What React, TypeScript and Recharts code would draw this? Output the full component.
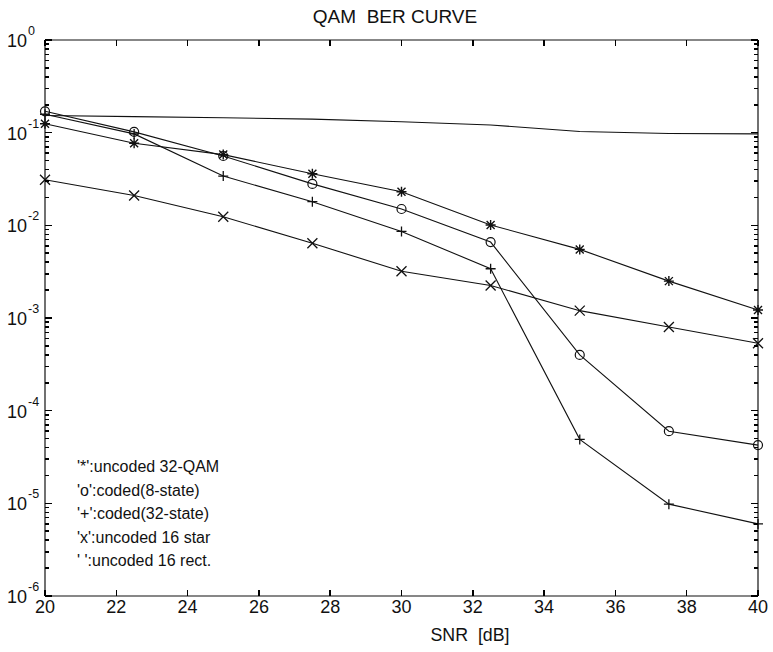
import { LineChart, Line, XAxis, YAxis } from 'recharts'

// SNR points (dB)
const SNR = [20, 22.5, 25, 27.5, 30, 32.5, 35, 37.5, 40]

// BER values
const UNCODED_32QAM = [0.125, 0.077, 0.058, 0.036, 0.023, 0.0101, 0.0055, 0.0025, 0.00122]
const CODED_8STATE = [0.17, 0.102, 0.056, 0.028, 0.015, 0.0066, 0.0004, 0.00006, 0.0000425]
const CODED_32STATE = [0.158, 0.097, 0.034, 0.018, 0.0086, 0.0034, 0.000049, 0.0000098, 0.000006]
const UNCODED_16STAR = [0.031, 0.021, 0.0124, 0.0064, 0.0032, 0.00224, 0.0012, 0.0008, 0.000535]
const UNCODED_16RECT = [0.153, 0.149, 0.145, 0.14, 0.131, 0.121, 0.103, 0.098, 0.097]

const X_TICKS = [20, 22, 24, 26, 28, 30, 32, 34, 36, 38, 40]
const Y_DECADES = [1e-6, 1e-5, 1e-4, 1e-3, 1e-2, 1e-1, 1]
const MINOR_STEPS = [2, 3, 4, 5, 6, 7, 8, 9]
const Y_TICKS = [
	...Y_DECADES,
	...Y_DECADES.slice(0, -1).flatMap((d) => MINOR_STEPS.map((m) => m * d)),
].sort((a, b) => a - b)

const LEGEND_LINES = [
	"'*':uncoded 32-QAM",
	"'o':coded(8-state)",
	"'+':coded(32-state)",
	"'x':uncoded 16 star",
	"' ':uncoded 16 rect.",
]

const rows = SNR.map((snr, i) => ({
	snr,
	qam32: UNCODED_32QAM[i],
	coded8: CODED_8STATE[i],
	coded32: CODED_32STATE[i],
	star16: UNCODED_16STAR[i],
	rect16: UNCODED_16RECT[i],
}))

const FONT = '"Liberation Sans", Arial, Helvetica, sans-serif'
const INK = '#111'
const TICK_W = 1.5

function isMajor(v: number) {
	const e = Math.log10(v)
	return Math.abs(e - Math.round(e)) < 1e-6
}

// ticks point inward, like the matlab frame
function LeftTick({ x, y, payload }: any) {
	const v = payload.value
	if (!isMajor(v))
		return <path d={`M${x},${y}h4`} stroke='#000' strokeWidth={TICK_W} shapeRendering='crispEdges' />
	const e = Math.round(Math.log10(v))
	return (
		<g>
			<path d={`M${x},${y}h7`} stroke='#000' strokeWidth={TICK_W} shapeRendering='crispEdges' />
			<text x={x - 18} y={y + 7} textAnchor='end' fontSize={18} fontFamily={FONT} fill={INK}>
				10
			</text>
			<text x={x - 17} y={y - 5} fontSize={12.5} fontFamily={FONT} fill={INK}>
				{e}
			</text>
		</g>
	)
}

function RightTick({ x, y, payload }: any) {
	const len = isMajor(payload.value) ? 7 : 4
	return <path d={`M${x},${y}h${-len}`} stroke='#000' strokeWidth={TICK_W} shapeRendering='crispEdges' />
}

function BottomTick({ x, y, payload }: any) {
	return (
		<g>
			<path d={`M${x},${y}v-6`} stroke='#000' strokeWidth={TICK_W} shapeRendering='crispEdges' />
			<text x={x} y={y + 17} textAnchor='middle' fontSize={18} fontFamily={FONT} fill={INK}>
				{payload.value}
			</text>
		</g>
	)
}

function TopTick({ x, y }: any) {
	return <path d={`M${x},${y}v6`} stroke='#000' strokeWidth={TICK_W} shapeRendering='crispEdges' />
}

const asterisk = ({ cx, cy, index }: any) => (
	<path
		key={`a${index}`}
		d={`M${cx - 5},${cy}H${cx + 5}M${cx},${cy - 5}V${cy + 5}M${cx - 4},${cy - 4}L${cx + 4},${cy + 4}M${cx - 4},${cy + 4}L${cx + 4},${cy - 4}`}
		stroke={INK}
		strokeWidth={1.4}
		fill='none'
	/>
)

const circle = ({ cx, cy, index }: any) => (
	<circle key={`o${index}`} cx={cx} cy={cy} r={4.5} stroke={INK} strokeWidth={1.2} fill='none' />
)

const plus = ({ cx, cy, index }: any) => (
	<path
		key={`p${index}`}
		d={`M${cx - 5},${cy}H${cx + 5}M${cx},${cy - 5}V${cy + 5}`}
		stroke={INK}
		strokeWidth={1.3}
		fill='none'
	/>
)

const cross = ({ cx, cy, index }: any) => (
	<path
		key={`x${index}`}
		d={`M${cx - 5},${cy - 5}L${cx + 5},${cy + 5}M${cx - 5},${cy + 5}L${cx + 5},${cy - 5}`}
		stroke={INK}
		strokeWidth={1.3}
		fill='none'
	/>
)

export default function App() {
	return (
		<div style={{ position: 'absolute', left: 0, top: 0, background: '#fff' }}>
			<LineChart width={773} height={652} data={rows} margin={{ top: 10, right: 0, bottom: 0, left: 0 }}>
				<XAxis
					xAxisId='b'
					dataKey='snr'
					type='number'
					domain={[20, 40]}
					ticks={X_TICKS}
					interval={0}
					height={56}
					tickSize={0}
					tickMargin={0}
					tickLine={false}
					axisLine={{ stroke: INK, strokeWidth: 1.2 }}
					tick={BottomTick}
				/>
				<XAxis
					xAxisId='t'
					orientation='top'
					dataKey='snr'
					type='number'
					domain={[20, 40]}
					ticks={X_TICKS}
					interval={0}
					height={30}
					tickSize={0}
					tickMargin={0}
					tickLine={false}
					axisLine={{ stroke: INK, strokeWidth: 1.2 }}
					tick={TopTick}
				/>
				<YAxis
					yAxisId='l'
					scale='log'
					type='number'
					domain={[1e-6, 1]}
					ticks={Y_TICKS}
					interval={0}
					width={45}
					tickSize={0}
					tickMargin={0}
					tickLine={false}
					axisLine={{ stroke: INK, strokeWidth: 1.2 }}
					tick={LeftTick}
					allowDataOverflow
				/>
				<YAxis
					yAxisId='r'
					orientation='right'
					scale='log'
					type='number'
					domain={[1e-6, 1]}
					ticks={Y_TICKS}
					interval={0}
					width={15}
					tickSize={0}
					tickMargin={0}
					tickLine={false}
					axisLine={{ stroke: INK, strokeWidth: 1.2 }}
					tick={RightTick}
					allowDataOverflow
				/>
				<Line xAxisId='b' yAxisId='l' dataKey='rect16' type='linear' stroke={INK} strokeWidth={1.1} dot={false} isAnimationActive={false} />
				<Line xAxisId='b' yAxisId='l' dataKey='qam32' type='linear' stroke={INK} strokeWidth={1.1} dot={asterisk} isAnimationActive={false} />
				<Line xAxisId='b' yAxisId='l' dataKey='coded8' type='linear' stroke={INK} strokeWidth={1.1} dot={circle} isAnimationActive={false} />
				<Line xAxisId='b' yAxisId='l' dataKey='coded32' type='linear' stroke={INK} strokeWidth={1.1} dot={plus} isAnimationActive={false} />
				<Line xAxisId='b' yAxisId='l' dataKey='star16' type='linear' stroke={INK} strokeWidth={1.1} dot={cross} isAnimationActive={false} />
				<text x={395} y={23} textAnchor='middle' fontSize={19} fontFamily={FONT} fill={INK} style={{ whiteSpace: 'pre' }}>
					QAM  BER CURVE
				</text>
				<text x={470} y={641} textAnchor='middle' fontSize={17.8} fontFamily={FONT} fill={INK} style={{ whiteSpace: 'pre' }}>
					SNR  [dB]
				</text>
				{LEGEND_LINES.map((t, i) => (
					<text key={t} x={77} y={472 + i * 23.5} fontSize={16} fontFamily={FONT} fill={INK} style={{ whiteSpace: 'pre' }}>
						{t}
					</text>
				))}
			</LineChart>
		</div>
	)
}
